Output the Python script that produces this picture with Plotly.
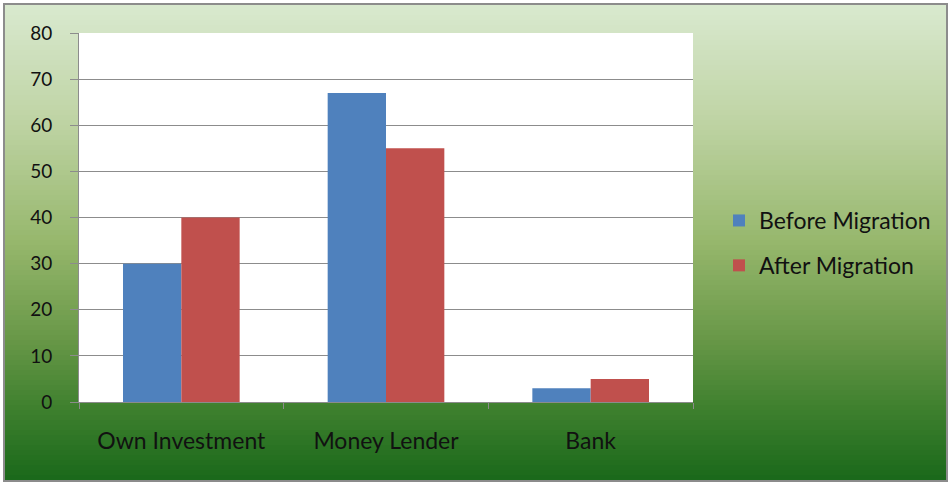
import plotly.graph_objects as go

# Source of funds, share of households (%)
categories = ["Own Investment", "Money Lender", "Bank"]
before_migration = [30, 67, 3]
after_migration = [40, 55, 5]
y_ticks = [0, 10, 20, 30, 40, 50, 60, 70, 80]

W, H = 951, 483
L, R, T, B = 79, 693, 33, 402  # plot area in pixels
PW, PH = R - L, B - T


def px_x(px):
    return (px - L) / PW


def px_y(py):
    return (B - py) / PH


# vertical gradient stops for the chart background (position 0 = top)
stops = [
    (0.00, (217, 233, 207)),
    (0.25, (190, 211, 163)),
    (0.50, (150, 183, 108)),
    (0.70, (105, 152, 72)),
    (0.85, (62, 128, 46)),
    (1.00, (26, 104, 26)),
]


def grad(t):
    for (t0, c0), (t1, c1) in zip(stops[:-1], stops[1:]):
        if t <= t1:
            f = (t - t0) / (t1 - t0)
            return "rgb(%d,%d,%d)" % tuple(round(a + (b - a) * f) for a, b in zip(c0, c1))
    return "rgb(%d,%d,%d)" % stops[-1][1]


shapes = []
top, bot, left, right = 5, 480, 5, 946
n = 95
for i in range(n):
    y0 = top + (bot - top) * i / n
    y1 = top + (bot - top) * (i + 1) / n + 0.6
    shapes.append(dict(type="rect", xref="paper", yref="paper",
                       x0=px_x(left), x1=px_x(right), y0=px_y(y0), y1=px_y(y1),
                       fillcolor=grad((i + 0.5) / n), line=dict(width=0), layer="below"))
# outer frame
shapes.append(dict(type="rect", xref="paper", yref="paper",
                   x0=px_x(4), x1=px_x(947), y0=px_y(4), y1=px_y(481),
                   line=dict(color="#8c8c8c", width=2), fillcolor="rgba(0,0,0,0)", layer="below"))
# white plot area
shapes.append(dict(type="rect", xref="paper", yref="paper",
                   x0=0, x1=1, y0=0, y1=1, fillcolor="white", line=dict(width=0), layer="below"))

fig = go.Figure()
fig.add_trace(go.Bar(x=categories, y=before_migration, name="Before Migration",
                     marker=dict(color="#4f81bd", line=dict(width=0)), legendgroup="a"))
fig.add_trace(go.Bar(x=categories, y=after_migration, name="After Migration",
                     marker=dict(color="#c0504d", line=dict(width=0)), legendgroup="b"))

family = "Lato, Calibri, sans-serif"
tick_font = dict(family=family, size=19, color="#111111")
label_font = dict(family=family, size=23, color="#111111")

fig.update_layout(
    width=W, height=H,
    margin=dict(l=L, r=W - R, t=T, b=H - B, pad=0),
    paper_bgcolor="white",
    plot_bgcolor="rgba(0,0,0,0)",
    barmode="group", bargap=0.43, bargroupgap=0,
    shapes=shapes,
    font=tick_font,
    showlegend=True,
    legend=dict(x=px_x(719), y=px_y(243), xanchor="left", yanchor="middle",
                bgcolor="rgba(0,0,0,0)", font=label_font, tracegroupgap=12,
                itemwidth=30),
    xaxis=dict(showline=True, linecolor="#8c8c8c", linewidth=1,
               ticks="outside", tickson="boundaries", ticklen=6, tickcolor="#8c8c8c",
               ticklabelstandoff=18, showgrid=False, fixedrange=True,
               tickfont=label_font),
    yaxis=dict(range=[0, 80], tickvals=y_ticks, showline=True, linecolor="#8c8c8c",
               linewidth=1, showgrid=True, gridcolor="#8c8c8c", gridwidth=1,
               ticks="outside", ticklen=8, tickcolor="#8c8c8c",
               ticklabelstandoff=14, zeroline=False, fixedrange=True,
               tickfont=tick_font),
)

fig.write_html("out.html")
